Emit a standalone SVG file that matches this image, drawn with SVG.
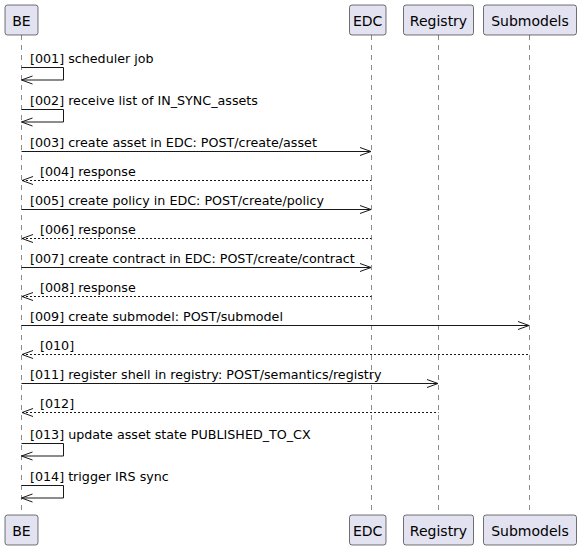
<svg xmlns="http://www.w3.org/2000/svg" width="580" height="550" viewBox="0 0 580 550">
<style>
.bg{fill:#FFFFFF}
.p rect{fill:#E2E2F0;stroke:#181818;stroke-width:0.6}
.p text{font-family:"DejaVu Sans",sans-serif;font-size:14px;fill:#000;text-anchor:middle}
.life{stroke:#181818;stroke-width:0.5;stroke-dasharray:5,5;fill:none}
.m{stroke:#181818;stroke-width:1;fill:none}
.r{stroke:#181818;stroke-width:1;fill:none;stroke-dasharray:2,2}
.ah{stroke:#181818;stroke-width:1;fill:none}
.t{font-family:"DejaVu Sans",sans-serif;font-size:12.7px;fill:#000}
</style>
<rect class="bg" x="0" y="0" width="580" height="550"/>
<g id="lifelines">
<line class="life" x1="21.5" y1="35" x2="21.5" y2="515"/>
<line class="life" x1="371.5" y1="35" x2="371.5" y2="515"/>
<line class="life" x1="438.5" y1="35" x2="438.5" y2="515"/>
<line class="life" x1="529.5" y1="35" x2="529.5" y2="515"/>
</g>
<g id="BE" class="p"><rect x="5" y="5" width="33" height="30" rx="2.5"/><text x="21.5" y="26">BE</text></g>
<g id="EDC" class="p"><rect x="349.5" y="5" width="36.5" height="30" rx="2.5"/><text x="367.7" y="26">EDC</text></g>
<g id="Registry" class="p"><rect x="403.5" y="5" width="70" height="30" rx="2.5"/><text x="438.5" y="26">Registry</text></g>
<g id="Submodels" class="p"><rect x="483.5" y="5" width="93" height="30" rx="2.5"/><text x="530" y="26">Submodels</text></g>
<g id="BE-bottom" class="p"><rect x="5" y="515" width="33" height="30" rx="2.5"/><text x="21.5" y="536">BE</text></g>
<g id="EDC-bottom" class="p"><rect x="349.5" y="515" width="36.5" height="30" rx="2.5"/><text x="367.7" y="536">EDC</text></g>
<g id="Registry-bottom" class="p"><rect x="403.5" y="515" width="70" height="30" rx="2.5"/><text x="438.5" y="536">Registry</text></g>
<g id="Submodels-bottom" class="p"><rect x="483.5" y="515" width="93" height="30" rx="2.5"/><text x="530" y="536">Submodels</text></g>
<g id="connectors">
<!-- 001 -->
<polyline class="m" points="21.5,67.5 63.5,67.5 63.5,80 21.5,80"/>
<polyline class="ah" points="32.5,76 21.5,80 32.5,84"/>
<text class="t" x="30" y="62.5">[001] scheduler job</text>
<!-- 002 -->
<polyline class="m" points="21.5,109.5 63.5,109.5 63.5,122 21.5,122"/>
<polyline class="ah" points="32.5,118 21.5,122 32.5,126"/>
<text class="t" x="30" y="104.5">[002] receive list of IN_SYNC_assets</text>
<!-- 003 -->
<line class="m" x1="21.5" y1="151.5" x2="371" y2="151.5"/>
<polyline class="ah" points="360,147.5 371,151.5 360,155.5"/>
<text class="t" x="30" y="146.5">[003] create asset in EDC: POST/create/asset</text>
<!-- 004 -->
<line class="r" x1="22" y1="180.5" x2="371.5" y2="180.5"/>
<polyline class="ah" points="33,176.5 22,180.5 33,184.5"/>
<text class="t" x="40" y="175.5">[004] response</text>
<!-- 005 -->
<line class="m" x1="21.5" y1="209.5" x2="371" y2="209.5"/>
<polyline class="ah" points="360,205.5 371,209.5 360,213.5"/>
<text class="t" x="30" y="204.5">[005] create policy in EDC: POST/create/policy</text>
<!-- 006 -->
<line class="r" x1="22" y1="238.5" x2="371.5" y2="238.5"/>
<polyline class="ah" points="33,234.5 22,238.5 33,242.5"/>
<text class="t" x="40" y="233.5">[006] response</text>
<!-- 007 -->
<line class="m" x1="21.5" y1="267.5" x2="371" y2="267.5"/>
<polyline class="ah" points="360,263.5 371,267.5 360,271.5"/>
<text class="t" x="30" y="262.5">[007] create contract in EDC: POST/create/contract</text>
<!-- 008 -->
<line class="r" x1="22" y1="296.5" x2="371.5" y2="296.5"/>
<polyline class="ah" points="33,292.5 22,296.5 33,300.5"/>
<text class="t" x="40" y="291.5">[008] response</text>
<!-- 009 -->
<line class="m" x1="21.5" y1="325.5" x2="529" y2="325.5"/>
<polyline class="ah" points="518,321.5 529,325.5 518,329.5"/>
<text class="t" x="30" y="320.5">[009] create submodel: POST/submodel</text>
<!-- 010 -->
<line class="r" x1="22" y1="354.5" x2="529.5" y2="354.5"/>
<polyline class="ah" points="33,350.5 22,354.5 33,358.5"/>
<text class="t" x="40" y="349.5">[010]</text>
<!-- 011 -->
<line class="m" x1="21.5" y1="383.5" x2="438" y2="383.5"/>
<polyline class="ah" points="427,379.5 438,383.5 427,387.5"/>
<text class="t" x="30" y="378.5">[011] register shell in registry: POST/semantics/registry</text>
<!-- 012 -->
<line class="r" x1="22" y1="412.5" x2="438.5" y2="412.5"/>
<polyline class="ah" points="33,408.5 22,412.5 33,416.5"/>
<text class="t" x="40" y="407.5">[012]</text>
<!-- 013 -->
<polyline class="m" points="21.5,443.5 63.5,443.5 63.5,456 21.5,456"/>
<polyline class="ah" points="32.5,452 21.5,456 32.5,460"/>
<text class="t" x="30" y="438.5">[013] update asset state PUBLISHED_TO_CX</text>
<!-- 014 -->
<polyline class="m" points="21.5,485.5 63.5,485.5 63.5,498 21.5,498"/>
<polyline class="ah" points="32.5,494 21.5,498 32.5,502"/>
<text class="t" x="30" y="480.5">[014] trigger IRS sync</text>
</g>
</svg>
